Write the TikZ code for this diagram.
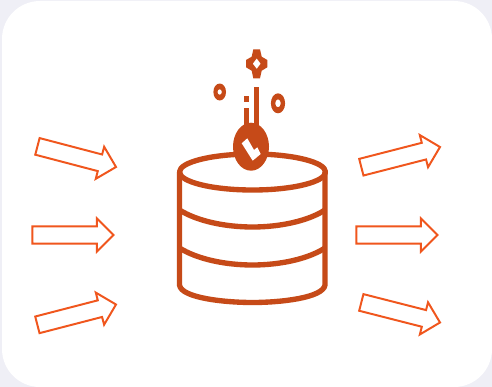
\documentclass[tikz,border=0pt]{standalone}
\usetikzlibrary{shapes.arrows}
\definecolor{dbrust}{HTML}{C64A18}
\definecolor{arroworange}{HTML}{F0561D}
\definecolor{panelgrey}{HTML}{EFEFF6}

\begin{document}
\begin{tikzpicture}[x=0.025cm, y=-0.025cm,
  blockarrow/.style={draw=arroworange, fill=white, line width=1.4pt, single arrow,
    anchor=tip, minimum height=2.03cm, single arrow head extend=0.2cm,
    single arrow tip angle=90, inner xsep=0pt, inner ysep=0.19cm, outer sep=0pt},
  dbline/.style={draw=dbrust, line width=3.8pt, line join=round},
  dbfill/.style={fill=dbrust}]
\useasboundingbox (0,0) rectangle (492,387);
\fill[panelgrey] (0,0) rectangle (492,387);
\fill[white, rounded corners=0.95cm] (2,1) rectangle (492,387);
% arrows in and out, placed by their tips
\foreach \n/\x/\y/\a in {i1/116/167/-14.7, i2/113.5/235/0, i3/116/304.5/14.5,
  o1/440/147/14.4, o2/437.5/235/0, o3/440/322.5/-14.3}{
  \node[blockarrow, rotate=\a] (\n) at (\x,\y) {};}
% cylinder
\draw[dbline] (252.5,172) ellipse [x radius=73, y radius=18];
\draw[dbline] (179.5,172) -- (179.5,285) .. controls (181,298) and (225,302.5) .. (252.5,302.5)
  .. controls (280,302.5) and (323,298) .. (325,285) -- (325,172);
\draw[dbline] (179.5,210) .. controls (197,221) and (225,227) .. (252.5,227)
  .. controls (280,227) and (308,221) .. (325,210);
\draw[dbline] (179.5,248) .. controls (197,259) and (225,265) .. (252.5,265)
  .. controls (280,265) and (308,259) .. (325,248);
% oval badge
\fill[dbfill] (251,146.7) ellipse [x radius=18, y radius=24];
\fill[white] (241.7,143.3) -- (247.3,138.3) -- (254,150) -- (257.3,147.3) -- (260.7,154) -- (252.7,160.7) -- cycle;
% stems
\fill[dbfill] (254,87.3) rectangle (259,125);
\fill[dbfill] (244,96) rectangle (249.3,101.7);
\fill[dbfill] (244,107.7) rectangle (249.3,125);
% rings
\fill[dbfill, even odd rule] (219.7,92) ellipse [x radius=6.3, y radius=8.5]
  (219.7,92) ellipse [x radius=2.2, y radius=2.8];
\fill[dbfill, even odd rule] (278,103.3) ellipse [x radius=7.1, y radius=10]
  (278,103.3) ellipse [x radius=2.8, y radius=4];
% sparkle
\fill[dbfill, even odd rule] (253.3,49.3) -- (260,49.3) -- (261.7,56.7) -- (267.3,60) -- (267.3,67.3)
  -- (261.7,70.7) -- (260,78.3) -- (253.3,78.3) -- (251.7,70.7) -- (246,67.3) -- (246,60) -- (251.7,56.7) -- cycle
  (256.7,58.3) -- (260.7,63.7) -- (256.7,69) -- (252.7,63.7) -- cycle;
\end{tikzpicture}
\end{document}
